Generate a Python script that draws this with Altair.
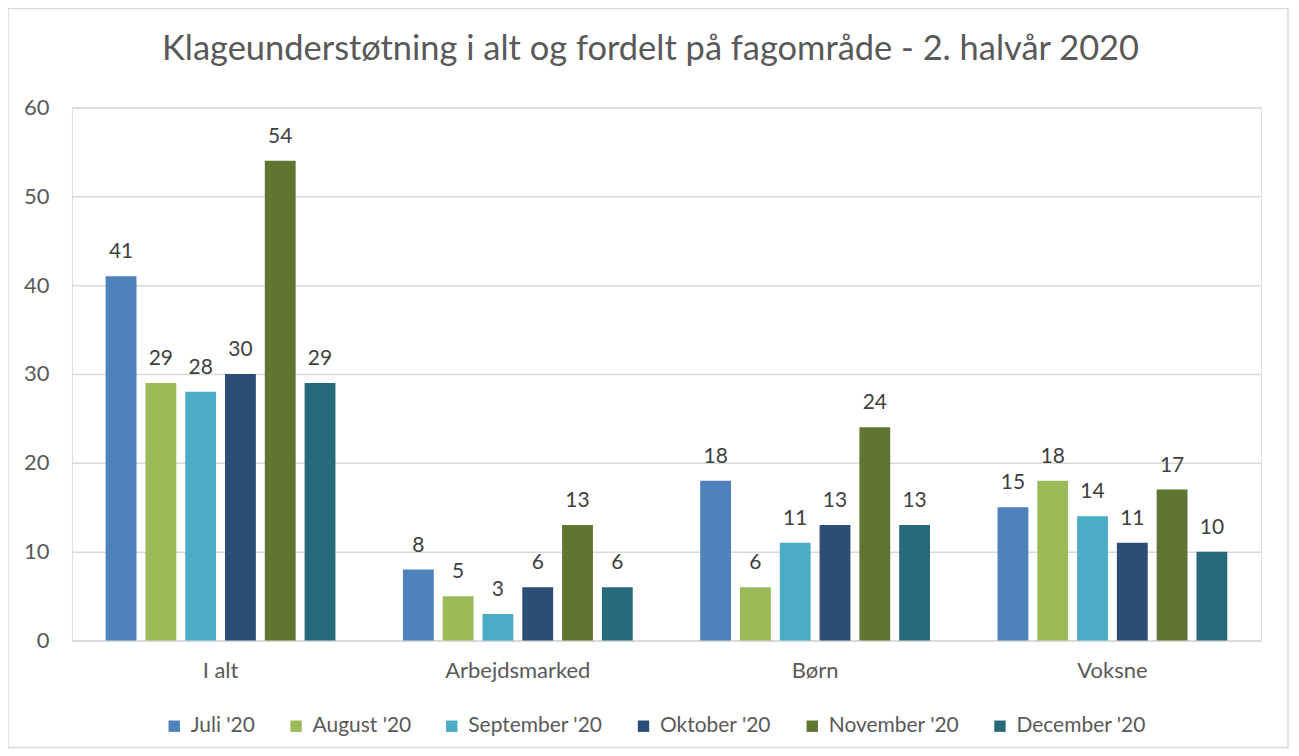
import altair as alt
import pandas as pd

categories = ["I alt", "Arbejdsmarked", "Børn", "Voksne"]
months = ["Juli '20", "August '20", "September '20", "Oktober '20", "November '20", "December '20"]
colors = ["#4F81BD", "#9BBB59", "#4BACC6", "#2C4D75", "#5F7530", "#276A7C"]
juli = [41, 8, 18, 15]
august = [29, 5, 6, 18]
september = [28, 3, 11, 14]
oktober = [30, 6, 13, 11]
november = [54, 13, 24, 17]
december = [29, 6, 13, 10]

series = [juli, august, september, oktober, november, december]
rows = []
for m, vals in zip(months, series):
    for c, v in zip(categories, vals):
        rows.append({"Fagområde": c, "Måned": m, "Antal": v})
df = pd.DataFrame(rows)

FONT = "Lato"
TXT = "#595959"

x = alt.X("Fagområde:N", sort=categories, title=None,
          scale=alt.Scale(paddingInner=0.227, paddingOuter=0.1135),
          axis=alt.Axis(labelAngle=0, labelFontSize=22, labelColor=TXT, labelFont=FONT,
                        labelPadding=20, ticks=False, domainColor="#D9D9D9", domainWidth=1.5))
xoff = alt.XOffset("Måned:N", sort=months,
                   scale=alt.Scale(paddingInner=0.225, paddingOuter=0))
y = alt.Y("Antal:Q", title=None,
          scale=alt.Scale(domain=[0, 60], nice=False),
          axis=alt.Axis(values=[0, 10, 20, 30, 40, 50, 60], labelFontSize=22, labelColor=TXT,
                        labelFont=FONT, labelPadding=23, ticks=False, domain=False,
                        gridColor="#D9D9D9", gridWidth=1.5))
color = alt.Color("Måned:N", sort=months,
                  scale=alt.Scale(domain=months, range=colors),
                  legend=alt.Legend(title=None, orient="none", direction="horizontal",
                                    legendX=92, legendY=609, symbolType="square",
                                    symbolSize=130, symbolStrokeWidth=0,
                                    labelFontSize=21, labelColor=TXT, labelFont=FONT,
                                    columnPadding=30, symbolOffset=0, labelOffset=6))

base = alt.Chart(df)
bars = base.mark_bar().encode(x=x, xOffset=xoff, y=y, color=color)
labels = base.mark_text(baseline="bottom", dy=-14, fontSize=21, color="#404040", font=FONT).encode(
    x=x, xOffset=xoff, y=y, text="Antal:Q")

border = alt.Chart(pd.DataFrame({"a": [0]})).mark_rect(
    fill=None, stroke="#D9D9D9", strokeWidth=1.5).encode(
    x=alt.value(-64), x2=alt.value(1218), y=alt.value(-99), y2=alt.value(641))

chart = alt.layer(border, bars, labels).properties(
    width=1191, height=534,
    title=alt.Title("Klageunderstøtning i alt og fordelt på fagområde - 2. halvår 2020",
                    fontSize=34.5, font=FONT, color=TXT, fontWeight="normal",
                    anchor="middle", frame="group", dx=-16, offset=-60),
    autosize=alt.AutoSizeParams(type="none"),
    padding={"left": 64, "top": 99, "right": 30, "bottom": 110},
).configure_view(stroke=None).configure(background="white")

chart.save("out.html", embed_options={"renderer": "svg", "actions": False})
